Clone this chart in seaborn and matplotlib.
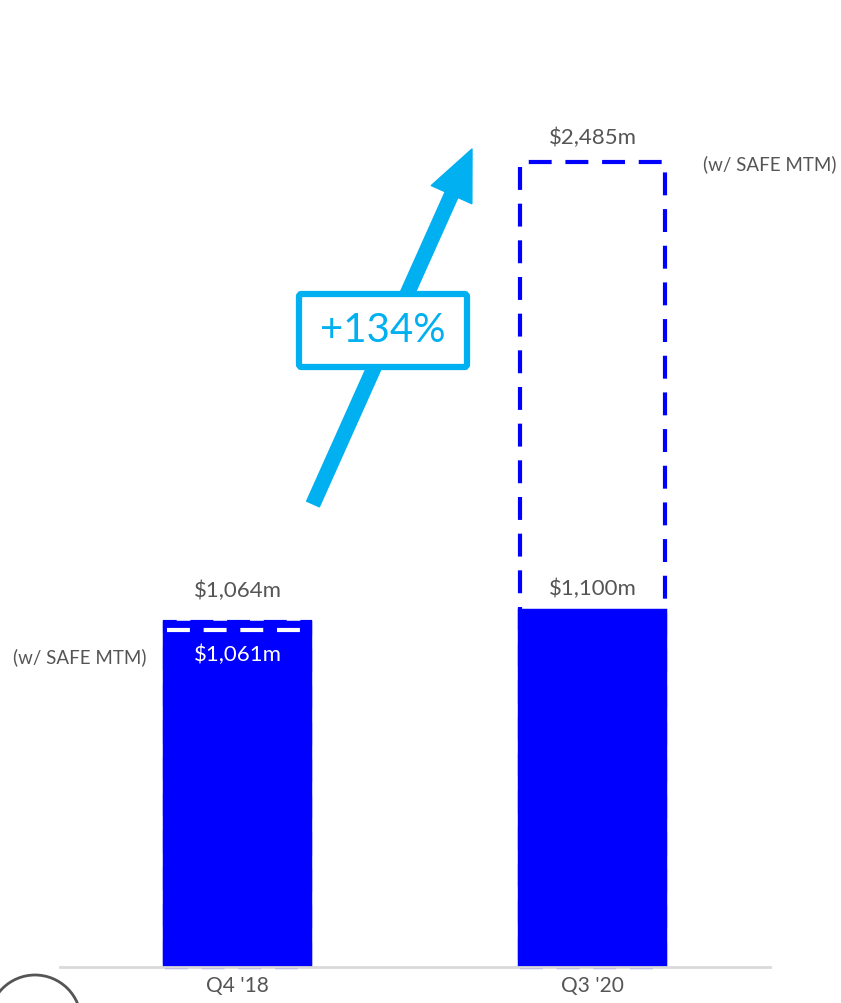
import matplotlib
matplotlib.use("Agg")
import matplotlib.pyplot as plt
import seaborn as sns
from matplotlib.patches import FancyArrowPatch, FancyBboxPatch, Ellipse

# Values in $m
quarters = ["Q4 '18", "Q3 '20"]
reported = [1061, 1100]
with_safe_mtm = [1064, 2485]
reported_labels = ["$1,061m", "$1,100m"]
safe_labels = ["$1,064m", "$2,485m"]
growth_label = "+134%"
note_label = "(w/ SAFE MTM)"

BLUE = "#0000FF"
CYAN = "#00B0F0"
GREY = "#555555"

sns.set_theme(style="white")
plt.rcParams['font.family'] = ['Lato', 'DejaVu Sans']

W, H = 841, 1004
fig = plt.figure(figsize=(W / 100, H / 100), dpi=100)
ax = fig.add_axes([60 / W, 36 / H, 710 / W, 968 / H])

# dashed outline bars (with SAFE mark-to-market)
ax.bar(range(len(quarters)), with_safe_mtm, width=0.41, fill=False,
       edgecolor=BLUE, linewidth=3, linestyle=(0, (5.5, 3.3)), zorder=1,
       clip_on=False)

# solid reported bars (solid edge covers the dashed outline underneath)
sns.barplot(x=quarters, y=reported, color=BLUE, saturation=1, width=0.41,
            edgecolor=BLUE, linewidth=3.2, ax=ax, zorder=2)

# white dashed line inside first bar
ax.plot([-0.2, 0.2], [reported[0] - 20] * 2, color="white", lw=3,
        linestyle=(0, (5.5, 3.3)), zorder=3)

ax.set_xlim(-0.5, 1.5)
ax.set_ylim(0, 2988)
ax.set_yticks([])
ax.set_ylabel("")
for s in ["top", "left", "right"]:
    ax.spines[s].set_visible(False)
ax.spines["bottom"].set_color("#d9d9d9")
ax.spines["bottom"].set_linewidth(2)
ax.spines["bottom"].set_zorder(4)
ax.tick_params(axis="x", length=0, pad=6, labelsize=15, labelcolor=GREY)

# value labels
ax.text(0, with_safe_mtm[0] + 70, safe_labels[0], ha="center", va="bottom",
        fontsize=16, color=GREY)
ax.text(0, reported[0] - 95, reported_labels[0], ha="center", va="center",
        fontsize=16, color="white", zorder=5)
ax.text(1, reported[1] + 40, reported_labels[1], ha="center", va="bottom",
        fontsize=16, color=GREY)
ax.text(1, with_safe_mtm[1] + 45, safe_labels[1], ha="center", va="bottom",
        fontsize=16, color=GREY)

fig.text(770 / W, 1 - 164 / H, note_label, ha="center", va="center",
         fontsize=13.5, color=GREY)
fig.text(80 / W, 1 - 657 / H, note_label, ha="center", va="center",
         fontsize=13.5, color=GREY)

# growth arrow
arrow = FancyArrowPatch((313 / W, 1 - 505 / H), (472 / W, 1 - 150 / H),
                        transform=fig.transFigure,
                        arrowstyle="simple,head_width=3.2,head_length=3.6,tail_width=1",
                        mutation_scale=10, color=CYAN, shrinkA=0, shrinkB=0,
                        zorder=6)
fig.add_artist(arrow)

box = FancyBboxPatch((299 / W, 1 - 368 / H), 168 / W, 73 / H,
                     boxstyle="round,pad=0,rounding_size=0.003",
                     transform=fig.transFigure, facecolor="white",
                     edgecolor=CYAN, linewidth=4.5, zorder=7)
fig.add_artist(box)
fig.text(383 / W, 1 - 331 / H, growth_label, ha="center", va="center",
         fontsize=29, color=CYAN, zorder=8)

# partial circle bottom-left
circ = Ellipse((35 / W, 1 - 1022 / H), 92 / W, 92 / H, transform=fig.transFigure,
               fill=False, edgecolor=GREY, linewidth=2)
fig.add_artist(circ)

fig.savefig("out.png", dpi=100)
